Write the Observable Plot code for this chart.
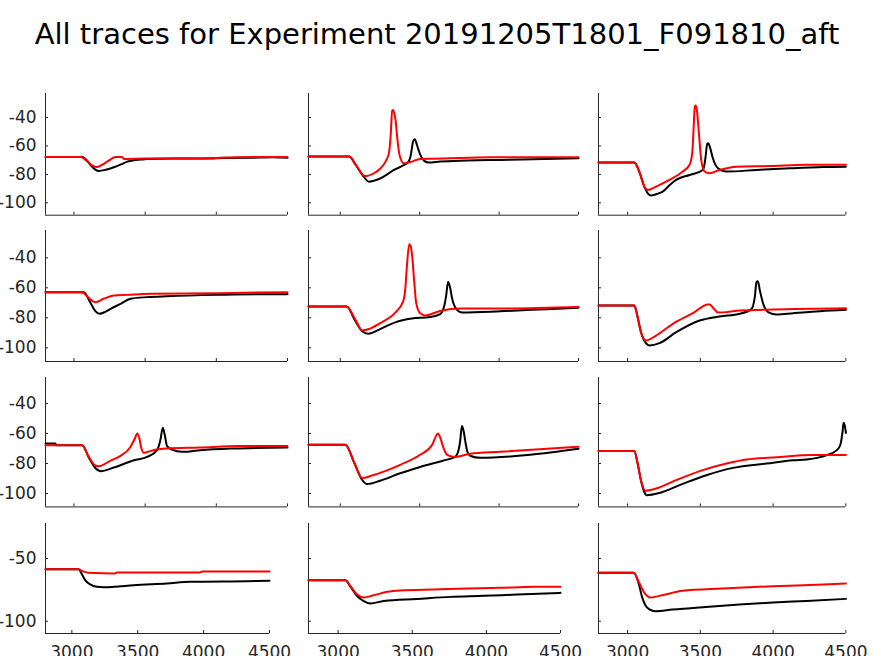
<!DOCTYPE html>
<html><head><meta charset="utf-8">
<script src="https://cdn.jsdelivr.net/npm/d3@7"></script>
<script src="https://cdn.jsdelivr.net/npm/@observablehq/plot@0.6"></script>
<style>
body{margin:0;background:#fff;}
#root{position:relative;width:874px;height:656px;overflow:hidden;background:#fff;font-family:"DejaVu Sans",sans-serif;}
#title{position:absolute;left:0;width:874px;top:20px;text-align:center;font-size:29px;line-height:29px;color:#000;white-space:nowrap;}
.panel{position:absolute;}
</style></head><body>
<div id="root"><div id="title">All traces for Experiment 20191205T1801_F091810_aft</div></div>
<script>
// ---- data: [time, voltage] ----
const black11 = [[2800,-67.7],[3058,-67.7],[3085,-69.5],[3120,-73.8],[3150,-76.6],[3175,-77.6],[3230,-76.5],[3280,-75],[3330,-73],[3374,-71],[3420,-70],[3467,-69.6],[3514,-69.2],[3700,-68.9],[3950,-68.8],[4050,-68.4],[4300,-68.2],[4400,-67.9],[4450,-68.2],[4500,-68.3]];
const red11 = [[2800,-67.7],[3047,-67.7],[3090,-70.5],[3130,-73.8],[3163,-74.8],[3200,-73.2],[3250,-70],[3292,-67.7],[3339,-67.8],[3350,-69.1],[3500,-68.9],[3800,-68.8],[4000,-68.4],[4150,-67.9],[4500,-67.7]];
const black12 = [[2800,-67.5],[3056,-67.5],[3098,-73.4],[3140,-80.5],[3181,-85.1],[3254,-82.7],[3338,-76.9],[3400,-73.4],[3430,-71],[3442,-67.5],[3452,-61],[3458,-57],[3469,-55.3],[3483,-59.3],[3495,-63.5],[3504,-66.3],[3529,-70.5],[3556,-71.7],[3629,-71],[3796,-70.3],[4004,-69.8],[4212,-69.3],[4500,-68.7]];
const red12 = [[2800,-67.5],[3056,-67.5],[3098,-73.4],[3150,-80.9],[3165,-81.1],[3212,-79.2],[3254,-75.7],[3285,-71],[3306,-65.2],[3317,-53.4],[3327,-35.1],[3333,-34.7],[3340,-37],[3348,-41.7],[3358,-53.4],[3373,-66.3],[3400,-72.2],[3442,-71.3],[3504,-69.1],[3587,-69],[3952,-68],[4500,-68]];
const black13 = [[2800,-71.7],[3046,-71.7],[3080,-78],[3115,-88.6],[3140,-93.5],[3161,-94.9],[3200,-93.8],[3241,-92.1],[3290,-87.5],[3333,-83.9],[3425,-80.4],[3517,-76.9],[3530,-72],[3536,-67.5],[3547,-58.6],[3554,-58.1],[3568,-61.6],[3586,-68.7],[3621,-75.7],[3678,-78],[3885,-76.9],[4115,-75.7],[4345,-74.8],[4500,-74.6]];
const red13 = [[2800,-71.7],[3046,-71.7],[3080,-78],[3115,-88.6],[3138,-90.9],[3195,-88.6],[3287,-83.9],[3379,-78],[3425,-73.4],[3444,-65.2],[3453,-48.7],[3462,-32.3],[3467,-31.6],[3476,-34.7],[3490,-51.1],[3506,-69.8],[3529,-78],[3563,-79.2],[3632,-76.9],[3747,-74.6],[3977,-74.1],[4230,-73.2],[4500,-73.2]];
const black21 = [[2800,-62.9],[3070,-62.9],[3110,-69],[3150,-75.5],[3180,-77.3],[3220,-76],[3257,-74],[3327,-70.7],[3397,-67.3],[3514,-66.2],[3654,-65.6],[4005,-64.7],[4500,-64.2]];
const red21 = [[2800,-62.9],[3058,-62.9],[3100,-66.5],[3150,-69.6],[3208,-67.3],[3280,-65.1],[3374,-64.7],[3537,-64],[4005,-63.6],[4285,-63.1],[4500,-62.9]];
const black22 = [[2800,-72.5],[3040,-72.5],[3094,-82],[3138,-89],[3176,-90.6],[3251,-87.5],[3346,-83],[3450,-80.5],[3566,-79.5],[3629,-77.5],[3655,-72],[3667,-65],[3679,-56],[3692,-60],[3704,-67],[3730,-74],[3768,-76.4],[4007,-75.6],[4300,-74.2],[4500,-73.2]];
const red22 = [[2800,-72.5],[3040,-72.5],[3094,-81],[3138,-88.4],[3176,-87.6],[3251,-83.5],[3346,-76.5],[3396,-69],[3410,-60],[3420,-45],[3434,-31],[3445,-33],[3453,-39],[3465,-55],[3478,-70],[3503,-77],[3535,-78.4],[3629,-75.4],[3755,-73.8],[4007,-73.8],[4500,-72.8]];
const black23 = [[2800,-71.8],[3046,-71.8],[3069,-79.6],[3092,-89.6],[3127,-97],[3150,-98.4],[3219,-96.9],[3334,-89.6],[3495,-81.8],[3633,-79.1],[3771,-77.3],[3851,-74.2],[3874,-66.2],[3886,-56.2],[3895,-55.6],[3909,-61.8],[3932,-70.7],[3966,-76.2],[4024,-77.8],[4139,-76.9],[4323,-75.6],[4500,-74.7]];
const red23 = [[2800,-71.8],[3046,-71.8],[3069,-79.6],[3092,-89.6],[3127,-95.1],[3196,-91.8],[3311,-84],[3449,-76.9],[3552,-71.1],[3564,-71.1],[3587,-73.3],[3621,-76.4],[3679,-76.2],[3771,-75.1],[4001,-74.4],[4500,-73.6]];
const black31 = [[2800,-66.7],[2870,-66.7],[2875,-67.8],[3058,-67.8],[3104,-76],[3150,-83],[3187,-85.1],[3280,-82.7],[3421,-77.8],[3514,-75.6],[3584,-71.1],[3607,-64.4],[3624,-56.2],[3638,-61.1],[3654,-68.4],[3689,-70.7],[3759,-72.2],[3888,-71.1],[4122,-70],[4500,-69.3]];
const red31 = [[2800,-67.8],[3058,-67.8],[3104,-75.6],[3150,-81.3],[3174,-81.8],[3255,-78.2],[3324,-75.1],[3394,-69.3],[3428,-63.3],[3444,-60],[3458,-62.7],[3474,-70],[3490,-72.9],[3520,-72.2],[3579,-70.7],[3650,-70],[3883,-69.3],[4164,-68.4],[4500,-68.4]];
const black32 = [[2800,-67.5],[3032,-67.5],[3090,-80],[3138,-91],[3170,-93.7],[3250,-91.5],[3377,-86.5],[3503,-82.3],[3650,-78],[3723,-75.6],[3745,-71],[3755,-65],[3766,-55],[3776,-58],[3787,-65],[3800,-72],[3818,-74.8],[3881,-76.2],[4196,-74.2],[4500,-70.2]];
const red32 = [[2800,-67.5],[3032,-67.5],[3090,-80],[3138,-89.7],[3200,-88],[3377,-80.9],[3503,-74.2],[3579,-67.5],[3606,-61],[3616,-60],[3630,-63],[3648,-69],[3673,-74.2],[3723,-75.6],[3818,-73.5],[4007,-72.2],[4500,-68.8]];
const black33 = [[2800,-71.6],[3046,-71.6],[3069,-80],[3092,-91.5],[3115,-99],[3131,-101.1],[3219,-99.6],[3357,-94.4],[3541,-87.8],[3725,-82.9],[3955,-80],[4139,-77.8],[4231,-77.3],[4369,-74.4],[4438,-71.1],[4461,-67.8],[4477,-58.9],[4484,-52.9],[4492,-54.5],[4500,-59.6]];
const red33 = [[2800,-71.6],[3046,-71.6],[3069,-80],[3092,-91.1],[3122,-98.2],[3196,-96.7],[3334,-91.1],[3495,-85.1],[3679,-80],[3817,-77.3],[4024,-75.8],[4277,-74.4],[4500,-74.4]];
const black41 = [[2800,-58.5],[3051,-58.5],[3076,-62.5],[3101,-67.3],[3139,-70.7],[3190,-72.6],[3240,-72.9],[3316,-72.6],[3468,-71.3],[3721,-69.9],[3898,-68.6],[4328,-68.1],[4500,-67.8]];
const red41 = [[2800,-58.5],[3051,-58.5],[3090,-60.5],[3126,-61.4],[3329,-62],[3341,-61.2],[3974,-61.2],[3986,-60.4],[4500,-60.4]];
const black42 = [[2800,-67.3],[3049,-67.3],[3083,-72.5],[3128,-80],[3173,-84],[3218,-85.9],[3308,-83.8],[3533,-82.2],[3758,-80.6],[3983,-79.8],[4208,-78.7],[4500,-77.4]];
const red42 = [[2800,-67.3],[3049,-67.3],[3083,-72.1],[3128,-78.7],[3173,-81.1],[3241,-79.3],[3331,-76.6],[3421,-75.5],[3645,-74.7],[3870,-73.9],[4095,-73.4],[4320,-72.6],[4500,-72.6]];
const black43 = [[2800,-61.4],[3042,-61.4],[3076,-69.9],[3099,-80.6],[3122,-87.2],[3150,-90.5],[3192,-92],[3307,-90.7],[3538,-88.6],[3768,-86.7],[3999,-85.1],[4230,-83.8],[4500,-82.2]];
const red43 = [[2800,-61.4],[3042,-61.4],[3076,-68.6],[3111,-76.6],[3157,-81.1],[3238,-79.3],[3376,-75.8],[3653,-73.9],[3999,-72.1],[4345,-70.7],[4500,-69.9]];

const xTicks = [3000, 3500, 4000, 4500];
const yTicksUpper = [-100, -80, -60, -40];
const yTicksLower = [-100, -50];
const xDomain = [2800, 4500];

const traces = [
  [black11, red11], [black12, red12], [black13, red13],
  [black21, red21], [black22, red22], [black23, red23],
  [black31, red31], [black32, red32], [black33, red33],
  [black41, red41], [black42, red42], [black43, red43]
];

// ---- layout (page pixels of each plot frame) ----
const colsUpper = [[45.3, 287.3], [308.3, 578.3], [598.3, 845.7]];
const colsLower = [[45.3, 269.3], [308.3, 560.3], [598.3, 845.7]];
const rows = [[93.3, 215], [230, 361], [377.3, 506.7], [523.3, 633.3]];
const yDomains = [[-108.7, -23.1], [-109.1, -21.8], [-108.9, -22.7], [-109.8, -22.1]];

const M = {l: 60, r: 30, t: 10, b: 40};
const root = document.getElementById("root");
const axisColor = "#262626";

traces.forEach(([blk, red], i) => {
  const r = Math.floor(i / 3), c = i % 3;
  const [x0, x1] = (r === 3 ? colsLower : colsUpper)[c];
  const [y0, y1] = rows[r];
  const w = x1 - x0, h = y1 - y0;
  const yd = yDomains[r];
  const showX = r === 3, showY = c === 0;
  const chart = Plot.plot({
    width: w + M.l + M.r,
    height: h + M.t + M.b,
    marginLeft: M.l, marginRight: M.r, marginTop: M.t, marginBottom: M.b,
    x: {domain: xDomain},
    y: {domain: yd},
    style: {background: "transparent", overflow: "visible", fontFamily: "DejaVu Sans, sans-serif", fontSize: "17px", color: axisColor},
    marks: [
      Plot.axisX({ticks: xTicks, tickSize: -3, tickPadding: 15, stroke: axisColor, fill: axisColor,
        tickFormat: showX ? (d => String(d)) : (() => ""), label: null}),
      Plot.axisY({ticks: r === 3 ? yTicksLower : yTicksUpper, tickSize: -3, tickPadding: 12, stroke: axisColor, fill: axisColor,
        tickFormat: showY ? (d => String(d)) : (() => ""), label: null}),
      Plot.ruleX([xDomain[0]], {stroke: axisColor, strokeWidth: 1}),
      Plot.ruleY([yd[0]], {stroke: axisColor, strokeWidth: 1}),
      Plot.line(blk, {x: d => d[0], y: d => d[1], stroke: "#000000", strokeWidth: 2, curve: "monotone-x"}),
      Plot.line(red, {x: d => d[0], y: d => d[1], stroke: "#ff0000", strokeWidth: 2, curve: "monotone-x"})
    ]
  });
  chart.classList.add("panel");
  chart.style.left = (x0 - M.l) + "px";
  chart.style.top = (y0 - M.t) + "px";
  root.appendChild(chart);
});
</script>
</body></html>
